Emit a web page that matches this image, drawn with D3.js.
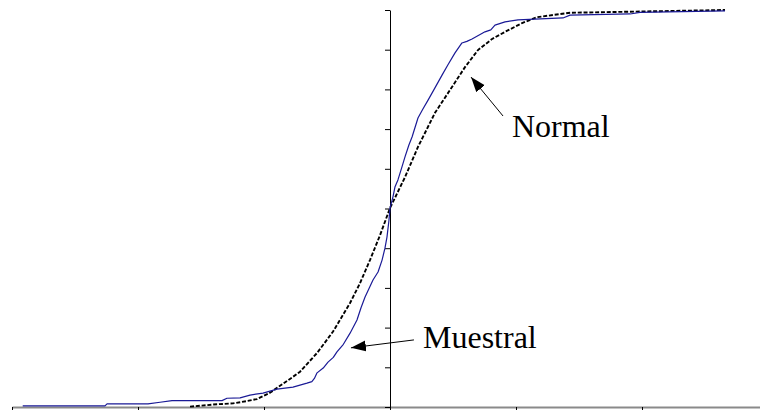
<!DOCTYPE html>
<html>
<head>
<meta charset="utf-8">
<script src="https://cdn.jsdelivr.net/npm/d3@7"></script>
<style>
  html, body { margin: 0; padding: 0; background: #fff; }
  svg { display: block; }
  text { font-family: "Liberation Serif", "Times New Roman", serif; }
</style>
</head>
<body>
<svg id="chart" width="760" height="410"></svg>
<script>
// Empirical (sample) cumulative distribution
const sampleX = [-2.915, -2.262, -2.246, -1.921, -1.825, -1.730, -1.333, -1.294, -1.190, -1.111,
  -1.008, -0.897, -0.770, -0.659, -0.620, -0.600, -0.579, -0.530, -0.492, -0.450, -0.421, -0.370,
  -0.317, -0.262, -0.230, -0.198, -0.135, -0.095, -0.063, -0.040, -0.024, -0.008, 0.000, 0.024,
  0.040, 0.063, 0.095, 0.119, 0.150, 0.175, 0.222, 0.260, 0.302, 0.350, 0.413, 0.460, 0.516,
  0.571, 0.610, 0.651, 0.754, 0.800, 0.833, 0.913, 1.016, 1.373, 1.429, 1.905, 1.984, 2.659];
const sampleY = [0.003, 0.003, 0.008, 0.008, 0.012, 0.016, 0.016, 0.022, 0.023, 0.030,
  0.035, 0.045, 0.050, 0.060, 0.064, 0.072, 0.086, 0.098, 0.113, 0.125, 0.139, 0.158,
  0.186, 0.219, 0.250, 0.277, 0.320, 0.340, 0.370, 0.400, 0.428, 0.471, 0.501, 0.530,
  0.555, 0.572, 0.605, 0.630, 0.660, 0.680, 0.728, 0.750, 0.773, 0.800, 0.836, 0.862, 0.892,
  0.917, 0.921, 0.927, 0.945, 0.950, 0.962, 0.970, 0.975, 0.980, 0.987, 0.990, 0.994, 0.998];

// Fitted normal cumulative distribution
const normalX = [-1.587, -1.373, -1.246, -1.135, -1.056, -0.952, -0.770, -0.714, -0.579, -0.452,
  -0.317, -0.238, -0.159, -0.079, 0.000, 0.119, 0.222, 0.357, 0.492, 0.595, 0.698, 0.810,
  0.913, 1.048, 1.167, 1.429, 2.659];
const normalY = [0.001, 0.007, 0.009, 0.015, 0.020, 0.036, 0.076, 0.089, 0.136, 0.190,
  0.262, 0.312, 0.370, 0.433, 0.501, 0.579, 0.655, 0.741, 0.806, 0.856, 0.899, 0.927,
  0.945, 0.967, 0.982, 0.993, 1.000];

// Axis ticks (unlabelled)
const xTicks = [-3, -2, -1, 0, 1, 2];
const yTicks = [0, 0.1, 0.2, 0.3, 0.4, 0.5, 0.6, 0.7, 0.8, 0.9, 1];

// Curve labels with their arrows (data coordinates)
const labelNames = ["Normal", "Muestral"];
const labelAt = [[0.968, 0.680], [0.262, 0.149]];
const arrowFrom = [[0.897, 0.733], [0.190, 0.169]];
const arrowTo = [[0.643, 0.831], [-0.310, 0.149]];

const svg = d3.select("#chart");

const x = d3.scaleLinear().domain([-3, 3]).range([12, 768]);
const y = d3.scaleLinear().domain([0, 1]).range([407, 10]);

// Horizontal axis: grey baseline with short black ticks below
const gx = svg.append("g")
  .attr("transform", `translate(0,${y(0)})`)
  .call(d3.axisBottom(x).tickValues(xTicks).tickSize(4).tickSizeOuter(0).tickFormat(""));
gx.select(".domain").attr("stroke", "#8a8a8a").attr("stroke-width", 2.2);
gx.selectAll(".tick line").attr("stroke", "#000");

// Vertical axis through x = 0 with ticks to the left
const gy = svg.append("g")
  .attr("transform", `translate(${x(0)},0)`)
  .call(d3.axisLeft(y).tickValues(yTicks).tickSize(5).tickSizeOuter(0).tickFormat(""));
gy.select(".domain").attr("stroke", "#000").attr("stroke-width", 1);
gy.selectAll(".tick line").attr("stroke", "#000");

const line = d3.line().x(d => x(d[0])).y(d => y(d[1]));

// Normal CDF: dotted black
svg.append("path")
  .datum(d3.zip(normalX, normalY))
  .attr("fill", "none")
  .attr("stroke", "#000")
  .attr("stroke-width", 1.9)
  .attr("stroke-dasharray", "4,1.8")
  .attr("d", line);

// Sample CDF: thin navy line
svg.append("path")
  .datum(d3.zip(sampleX, sampleY))
  .attr("fill", "none")
  .attr("stroke", "#1a1a96")
  .attr("stroke-width", 1.2)
  .attr("stroke-linejoin", "round")
  .attr("d", line);

// Arrowhead marker
svg.append("defs").append("marker")
  .attr("id", "head")
  .attr("markerUnits", "userSpaceOnUse")
  .attr("markerWidth", 16).attr("markerHeight", 12)
  .attr("refX", 15).attr("refY", 5.5)
  .attr("orient", "auto")
  .append("path")
  .attr("d", "M0,0L15,5.5L0,11Z")
  .attr("fill", "#000");

labelNames.forEach((name, i) => {
  svg.append("line")
    .attr("x1", x(arrowFrom[i][0])).attr("y1", y(arrowFrom[i][1]))
    .attr("x2", x(arrowTo[i][0])).attr("y2", y(arrowTo[i][1]))
    .attr("stroke", "#000").attr("stroke-width", 1)
    .attr("marker-end", "url(#head)");
  svg.append("text")
    .attr("x", x(labelAt[i][0])).attr("y", y(labelAt[i][1]))
    .attr("font-size", 32)
    .attr("fill", "#000")
    .text(name);
});
</script>
</body>
</html>
